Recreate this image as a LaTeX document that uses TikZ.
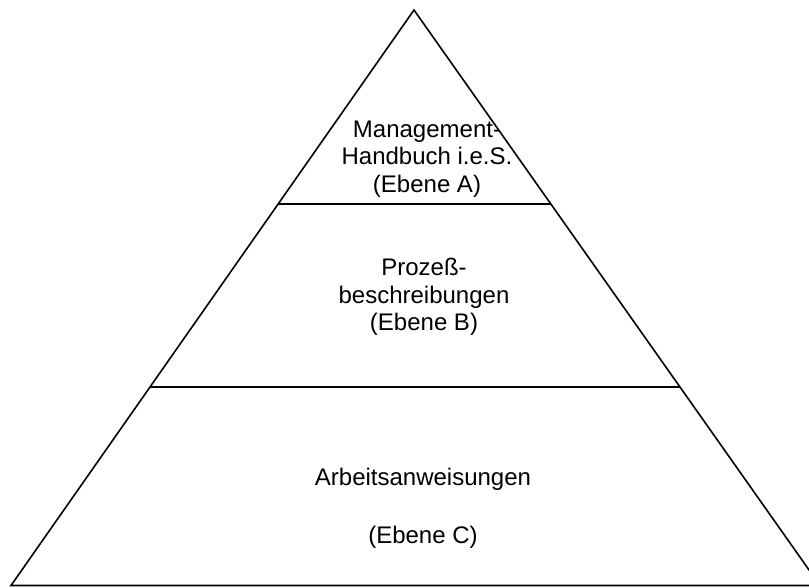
\documentclass[tikz,border=0pt]{standalone}
\usepackage{fontspec}
\setmainfont{Liberation Sans}
\usetikzlibrary{calc}
\begin{document}
\begin{tikzpicture}[x=1pt,y=-1pt,
  edge/.style={line width=1.6pt,line join=miter},
  level/.style={align=center,inner sep=0pt,font=\fontsize{24}{27.5}\selectfont}]
  \useasboundingbox (0,0) rectangle (809,587);
  \clip (0,0) rectangle (809,587);
  % outline of the pyramid
  \coordinate (apex) at (414,10);
  \coordinate (bl) at (11,585.5);
  \coordinate (br) at (820,585.5);
  \draw[edge] (bl) -- (apex) -- (br) -- cycle;
  % level boundaries
  \coordinate (aL) at ($(apex)!0.3371!(bl)$);
  \coordinate (aR) at ($(apex)!0.3371!(br)$);
  \coordinate (bL) at ($(apex)!0.6551!(bl)$);
  \coordinate (bR) at ($(apex)!0.6551!(br)$);
  \draw[edge] (aL) -- (aR);
  \draw[edge] (bL) -- (bR);
  % level labels
  \node[level] (textA) at (427,159) {Management-\\Handbuch i.e.S.\\(Ebene A)};
  \node[level] (textB) at (424,297) {Prozeß-\\beschreibungen\\(Ebene B)};
  \node[level] (textC) at (423,508) {Arbeitsanweisungen\\[30.5pt](Ebene C)};
\end{tikzpicture}
\end{document}
